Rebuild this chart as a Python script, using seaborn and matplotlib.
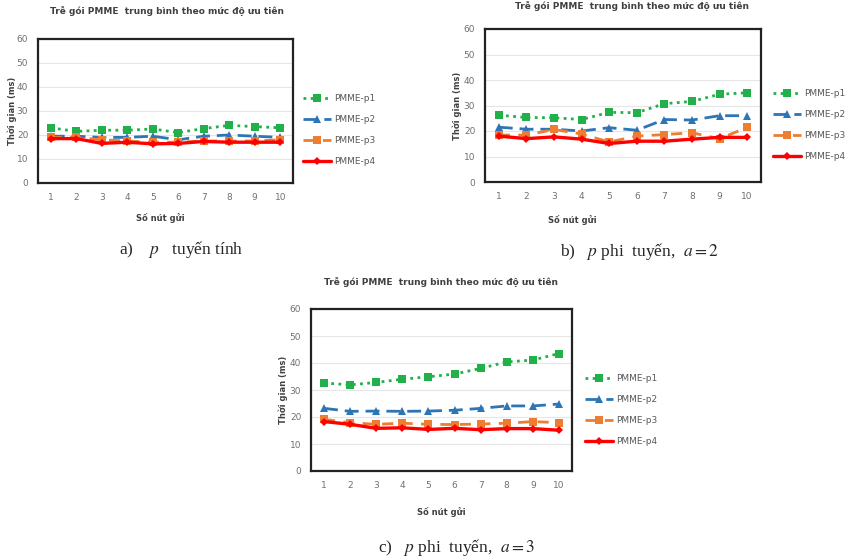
import numpy as np
import pandas as pd
import matplotlib
matplotlib.use("Agg")
import matplotlib.pyplot as plt
import seaborn as sns

# Số nút gửi (x axis)
nodes = [1, 2, 3, 4, 5, 6, 7, 8, 9, 10]
series = ['PMME-p1', 'PMME-p2', 'PMME-p3', 'PMME-p4']

# a) p tuyến tính
a_p1 = [23.0, 21.5, 22.0, 22.0, 22.5, 21.0, 22.7, 24.0, 23.5, 23.0]
a_p2 = [19.5, 19.5, 19.0, 19.0, 19.5, 18.0, 19.5, 20.0, 19.5, 19.0]
a_p3 = [19.0, 19.0, 18.0, 17.5, 17.0, 17.0, 17.5, 17.5, 17.5, 18.0]
a_p4 = [18.5, 18.5, 16.5, 17.0, 16.3, 16.5, 17.3, 17.0, 17.0, 17.0]

# b) p phi tuyến, a = 2
b_p1 = [26.2, 25.3, 25.2, 24.5, 27.3, 27.2, 30.7, 31.6, 34.4, 35.0]
b_p2 = [21.5, 20.7, 20.7, 20.0, 21.3, 20.3, 24.5, 24.3, 26.0, 26.0]
b_p3 = [18.4, 18.4, 20.6, 18.8, 15.7, 18.0, 18.6, 19.3, 17.0, 21.4]
b_p4 = [18.0, 17.0, 17.7, 16.8, 15.1, 16.0, 16.0, 16.8, 17.5, 17.5]

# c) p phi tuyến, a = 3
c_p1 = [32.6, 31.9, 32.8, 34.0, 34.9, 35.9, 38.0, 40.4, 41.1, 43.5]
c_p2 = [23.2, 22.1, 22.2, 22.1, 22.2, 22.5, 23.2, 24.1, 24.1, 24.8]
c_p3 = [19.1, 17.9, 17.3, 17.7, 17.3, 17.2, 17.4, 17.7, 18.3, 17.9]
c_p4 = [18.3, 17.3, 15.8, 16.0, 15.4, 15.8, 15.3, 15.7, 15.7, 15.1]

title = 'Trễ gói PMME  trung bình theo mức độ ưu tiên'
ylabel = 'Thời gian (ms)'
xlabel = 'Số nút gửi'

colors = {'PMME-p1': '#22b04b', 'PMME-p2': '#2e75b6',
          'PMME-p3': '#ed7d31', 'PMME-p4': '#ff0000'}
markers = {'PMME-p1': 's', 'PMME-p2': '^', 'PMME-p3': 's', 'PMME-p4': 'D'}
dashes = {'PMME-p1': (1, 1.6), 'PMME-p2': (5, 2.5), 'PMME-p3': (4, 3), 'PMME-p4': ''}
widths = {'PMME-p1': 2.0, 'PMME-p2': 2.0, 'PMME-p3': 2.0, 'PMME-p4': 2.4}
msizes = {'PMME-p1': 6, 'PMME-p2': 5.5, 'PMME-p3': 6, 'PMME-p4': 4}

sns.set_style("white")
plt.rcParams['font.family'] = ['DejaVu Sans']
plt.rcParams['mathtext.fontset'] = 'stix'

W, H = 866, 560
fig = plt.figure(figsize=(W / 100, H / 100), dpi=100)


def px_axes(x0, y0, x1, y1):
    return fig.add_axes([x0 / W, 1 - y1 / H, (x1 - x0) / W, (y1 - y0) / H])


def to_long(vals):
    rows = []
    for name, v in zip(series, vals):
        for n, y in zip(nodes, v):
            rows.append((n, y, name))
    return pd.DataFrame(rows, columns=['node', 'ms', 'series'])


def draw(box, vals, title_xy, leg_xy, xlab_x, ylab_x, xlab_y, fs=6.5):
    ax = px_axes(*box)
    df = to_long(vals)
    for name in series:
        sub = df[df['series'] == name]
        sns.lineplot(data=sub, x='node', y='ms', ax=ax, color=colors[name],
                     marker=markers[name], markersize=msizes[name],
                     markeredgewidth=0, linewidth=widths[name],
                     dashes=False, label=name, legend=False)
        ln = ax.lines[-1]
        if dashes[name]:
            ln.set_dashes(dashes[name])
    ax.set_xlim(0.5, 10.5)
    ax.set_ylim(0, 60)
    ax.set_xticks(nodes)
    ax.set_yticks(range(0, 61, 10))
    ax.yaxis.grid(True, color='#e6e6e6', lw=0.8)
    ax.set_axisbelow(True)
    for s in ax.spines.values():
        s.set_color('#222222')
        s.set_linewidth(1.6)
    ax.tick_params(length=0, labelsize=fs, colors='#707070', pad=7)
    ax.set_xlabel('')
    ax.set_ylabel('')
    # axis labels placed in pixel coordinates
    fig.text(xlab_x / W, 1 - xlab_y / H, xlabel, fontsize=fs - 0.5,
             fontweight='bold', color='#404040', ha='center', va='center')
    yc = (box[1] + box[3]) / 2
    fig.text(ylab_x / W, 1 - yc / H, ylabel, fontsize=fs - 0.5,
             fontweight='bold', color='#404040', ha='center', va='center',
             rotation=90)
    fig.text(title_xy[0] / W, 1 - title_xy[1] / H, title, fontsize=fs,
             fontweight='bold', color='#404040', ha='center', va='center')
    h, l = ax.get_legend_handles_labels()
    fig.legend(h, l, loc='center left',
               bbox_to_anchor=(leg_xy[0] / W, 1 - leg_xy[1] / H),
               frameon=False, fontsize=fs, handlelength=3.2,
               handletextpad=0.3, labelspacing=1.35, borderpad=0,
               labelcolor='#595959')
    return ax


draw((38, 39, 293, 183), [a_p1, a_p2, a_p3, a_p4], (167, 11), (298, 130),
     160, 12, 218)
draw((485, 29, 761, 182), [b_p1, b_p2, b_p3, b_p4], (632, 6), (768, 125),
     572, 457, 220)
draw((311, 309, 572, 471), [c_p1, c_p2, c_p3, c_p4], (441, 282), (580, 410),
     441, 283, 512)

cap_fs = 12.5
fig.text(181 / W, 1 - 250 / H, r'a)    $p$   tuyến tính', fontsize=cap_fs,
         family='Liberation Serif', ha='center', va='center')
fig.text(640 / W, 1 - 251 / H, r'b)   $p$ phi  tuyến,  $a = 2$', fontsize=cap_fs,
         family='Liberation Serif', ha='center', va='center')
fig.text(457 / W, 1 - 547 / H, r'c)   $p$ phi  tuyến,  $a = 3$', fontsize=cap_fs,
         family='Liberation Serif', ha='center', va='center')

fig.savefig('out.png', dpi=100)
